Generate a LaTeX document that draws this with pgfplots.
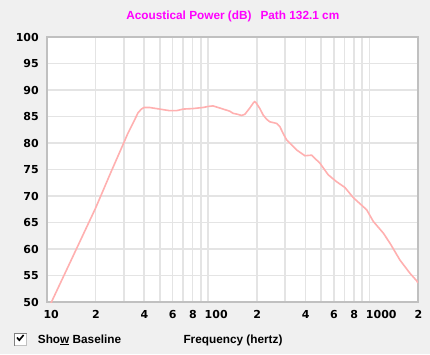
\documentclass[border=0pt]{standalone}
\usepackage{pgfplots}
\pgfplotsset{compat=1.18}
\usepackage{fontspec}
\setmainfont{Liberation Sans}
\newfontfamily\dejavu{DejaVu Sans}
\definecolor{bg}{RGB}{240,240,240}
\definecolor{gridc}{RGB}{228,228,228}
\definecolor{borderc}{RGB}{192,192,192}
\definecolor{curve}{RGB}{255,176,176}
\definecolor{titlec}{RGB}{255,0,255}
\newcommand{\tl}[1]{\makebox[7pt][l]{#1}}
\begin{document}
\begin{tikzpicture}
\fill[bg] (0pt,0pt) rectangle (430pt,354pt);
\begin{axis}[
  at={(47pt,52pt)}, anchor=south west,
  scale only axis, width=371pt, height=265pt,
  xmode=log, xmin=10, xmax=2000, ymin=50, ymax=100,
  axis background/.style={fill=white},
  xtick={10,20,30,40,50,60,70,80,90,100,200,300,400,500,600,700,800,900,1000,2000},
  xticklabels={\tl{10},\tl{2},,\tl{4},,\tl{6},,\tl{8},,\tl{100},\tl{2},,\tl{4},,\tl{6},,\tl{8},,\tl{1000},\tl{2}},
  ytick={50,55,...,100},
  grid=major,
  major grid style={draw=gridc, line width=1.6pt},
  axis line style={draw=borderc, line width=2pt},
  major tick length=0pt,
  /pgf/number format/assume math mode=true,
  ticklabel style={font=\dejavu\bfseries\fontsize{11}{11}\selectfont, text=black},
  xticklabel style={anchor=north, inner sep=0pt, yshift=-8pt},
  yticklabel style={anchor=east, inner sep=0pt, xshift=-8pt},
]
\addplot[color=curve, line width=1.6pt, mark=none] coordinates {
(10,48.2) (10.66,50) (15,59.6) (20,67.7) (25,74.6) (30,80.1) (31.7,81.8)
(34.1,83.7) (36.7,85.7) (38.5,86.4) (40,86.7) (43.3,86.7) (50,86.4)
(57.5,86.1) (63.5,86.1) (70,86.4) (80.5,86.5) (92.8,86.7) (100,86.9)
(107,87.0) (118,86.6) (136,86.0) (142.6,85.6) (153,85.4) (160.7,85.2)
(168.6,85.4) (181,86.6) (189.8,87.5) (194,87.8) (198,87.6) (208.9,86.5)
(218.9,85.3) (229.9,84.5) (241,84.0) (265.2,83.7) (278,83.1) (291.5,81.8)
(306,80.6) (353,78.7) (397.5,77.6) (437.5,77.7) (492.6,76.2) (554.6,74.0)
(625,72.7) (704.6,71.6) (793,69.7) (960.7,67.4) (1056,65.2) (1218,63.0)
(1340,61.1) (1546,57.9) (1785,55.4) (1963,54.0) (2000,53.6)
};
\end{axis}
\node[font=\bfseries\fontsize{11.8}{12}\selectfont, text=titlec, anchor=center]
  at (232.8pt,337.5pt) {Acoustical Power (dB)\hspace{9pt}Path 132.1 cm};
% checkbox
\fill[white] (14pt,8.3pt) rectangle (26.7pt,21pt);
\draw[color=borderc, line width=1pt] (14pt,8.3pt) rectangle (26.7pt,21pt);
\draw[color=gray, line width=1pt] (14pt,8.3pt) -- (14pt,21pt) -- (26.7pt,21pt);
\draw[black, line width=1.6pt] (17pt,16.5pt) -- (19.3pt,13.8pt) -- (23.6pt,19pt);
\node[font=\bfseries\fontsize{11.8}{12}\selectfont, anchor=base west, inner sep=0pt]
  at (37.7pt,11pt) {Sho\underline{w} Baseline};
\node[font=\bfseries\fontsize{11.8}{12}\selectfont, anchor=base west, inner sep=0pt]
  at (183.3pt,11pt) {Frequency (hertz)};
\end{tikzpicture}
\end{document}
